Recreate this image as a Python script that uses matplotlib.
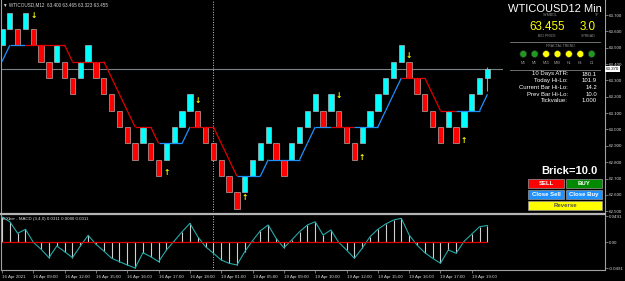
import matplotlib
matplotlib.use('Agg')
import matplotlib.pyplot as plt
from matplotlib.patches import Rectangle, Circle
import matplotlib.transforms as mtransforms

plt.rcParams['font.family'] = ['Liberation Sans', 'DejaVu Sans']

# ---------------- data ----------------
brick_size = 0.1
brick_low = [63.515, 63.615, 63.515, 63.615, 63.515, 63.415, 63.315, 63.415, 63.315, 63.215,
             63.315, 63.415, 63.315, 63.215, 63.115, 63.015, 62.915, 62.815, 62.915, 62.815,
             62.715, 62.815, 62.915, 63.015, 63.115, 63.015, 62.915, 62.815, 62.715, 62.615,
             62.515, 62.615, 62.715, 62.815, 62.915, 62.815, 62.715, 62.815, 62.915, 63.015,
             63.115, 63.015, 63.115, 63.015, 62.915, 62.815, 62.915, 63.015, 63.115, 63.215,
             63.315, 63.415, 63.315, 63.215, 63.115, 63.015, 62.915, 63.015, 62.915, 63.015,
             63.115, 63.215, 63.315]
brick_dir = [1, 1, -1, 1, -1, -1, -1, 1, -1, -1,
             1, 1, -1, -1, -1, -1, -1, -1, 1, -1,
             -1, 1, 1, 1, 1, -1, -1, -1, -1, -1,
             -1, 1, 1, 1, 1, -1, -1, 1, 1, 1,
             1, -1, 1, -1, -1, -1, 1, 1, 1, 1,
             1, 1, -1, -1, -1, -1, -1, 1, -1, 1,
             1, 1, 1]
current_close = 63.370
current_wick = (63.235, 63.382)

trend_level = [63.415, 63.515, 63.515, 63.515, 63.515, 63.515, 63.515, 63.515, 63.515, 63.415,
               63.415, 63.415, 63.415, 63.415, 63.315, 63.215, 63.115, 63.015, 63.015, 63.015,
               62.915, 62.915, 62.915, 62.915, 63.015, 63.015, 63.015, 63.015, 62.915, 62.815,
               62.715, 62.715, 62.715, 62.715, 62.815, 62.815, 62.815, 62.815, 62.815, 62.915,
               63.015, 63.015, 63.015, 63.015, 63.015, 63.015, 63.015, 63.015, 63.015, 63.115,
               63.215, 63.315, 63.315, 63.315, 63.315, 63.215, 63.115, 63.115, 63.115, 63.115,
               63.115, 63.115, 63.215]
trend_up = [1, 1, 1, 1, 0, 0, 0, 0, 0, 0,
            0, 0, 0, 0, 0, 0, 0, 0, 0, 0,
            0, 1, 1, 1, 1, 0, 0, 0, 0, 0,
            0, 1, 1, 1, 1, 1, 1, 1, 1, 1,
            1, 1, 1, 0, 0, 0, 1, 1, 1, 1,
            1, 1, 0, 0, 0, 0, 0, 0, 0, 1,
            1, 1, 1]

arrow_down_idx = [4, 25, 43, 52]
arrow_down_price = [63.700, 63.180, 63.205, 63.455]
arrow_up_idx = [21, 31, 46, 59]
arrow_up_price = [62.734, 62.581, 62.831, 62.935]

separator_idx = 27

macd = [0.0472, 0.0383, 0.0164, 0.0240, -0.0006, -0.0138, -0.0296, -0.0076, -0.0183, -0.0296,
        -0.0076, 0.0126, -0.0043, -0.0170, -0.0308, -0.0372, -0.0434, -0.0491, -0.0202, -0.0278,
        -0.0372, -0.0151, 0.0019, 0.0194, 0.0353, 0.0100, -0.0089, -0.0213, -0.0340, -0.0402,
        -0.0434, -0.0183, 0.0025, 0.0213, 0.0321, 0.0070, -0.0108, 0.0038, 0.0194, 0.0321,
        0.0383, 0.0132, 0.0227, -0.0006, -0.0151, -0.0308, -0.0119, 0.0100, 0.0240, 0.0340,
        0.0415, 0.0447, 0.0132, -0.0057, -0.0202, -0.0308, -0.0402, -0.0151, -0.0213, 0.0010,
        0.0151, 0.0289, 0.0311]
macd_scale = 0.0491

price_ticks = [63.7, 63.6, 63.5, 63.4, 63.3, 63.2, 63.1, 63.0, 62.9, 62.8, 62.7, 62.6, 62.5]
time_tick_idx = [0, 4, 8, 12, 16, 20, 24, 28, 32, 36, 40, 44, 48, 52, 56, 60]
time_labels = ['16 Apr 2021', '16 Apr 09:00', '16 Apr 12:00', '16 Apr 15:00', '16 Apr 16:00',
               '16 Apr 17:00', '16 Apr 18:00', '19 Apr 01:00', '19 Apr 05:00', '19 Apr 09:00',
               '19 Apr 10:00', '19 Apr 12:00', '19 Apr 15:00', '19 Apr 16:00', '19 Apr 17:00',
               '19 Apr 19:00']

title_text = '\u25bc WTICOUSD,M12  63.400 63.465 63.323 63.455'
macd_title = 'EXbar - MACD (3,4,0) 0.0311 0.0080 0.0311'
symbol_name = 'WTICOUSD12 Min'
bid_price = '63.455'
spread = '3.0'
fractal_tf = ['M1', 'M5', 'M15', 'M30', 'H1', 'H4', 'D1']
fractal_state = ['green', 'green', 'yellow', 'yellow', 'yellow', 'yellow', 'green']
info_labels = ['10 Days ATR:', 'Today Hi-Lo:', 'Current Bar Hi-Lo:', 'Prev Bar Hi-Lo:', 'Tickvalue:']
info_values = ['180.1', '101.9', '14.2', '10.0', '1.000']
brick_text = 'Brick=10.0'

# ---------------- figure ----------------
W, H = 625, 281
fig = plt.figure(figsize=(W / 100, H / 100), dpi=100, facecolor='black')

FG = '#d8d8d8'
FRAME = '#a0a0a0'

def fr(x0, y0, x1, y1):
    return [x0 / W, 1 - y1 / H, (x1 - x0) / W, (y1 - y0) / H]

ax = fig.add_axes(fr(1, 0, 605, 212))
ax2 = fig.add_axes(fr(1, 215, 605, 270))
for a in (ax, ax2):
    a.set_facecolor('black')
    for s in ('top', 'bottom'):
        a.spines[s].set_visible(False)
    for s in ('left', 'right'):
        a.spines[s].set_color(FRAME)
        a.spines[s].set_linewidth(0.8)

px_per_idx = 7.83
xlim = (-1 / px_per_idx, 603 / px_per_idx)
ax.set_xlim(*xlim)
ax2.set_xlim(*xlim)

# price scale: 0.1 per 16.35 px, 63.7 at px 15
ppx = 0.1 / 16.35
ax.set_ylim(63.7 - (212 - 15) * ppx, 63.7 + 15 * ppx)

n = len(brick_low)
idx = list(range(n))

# bricks
for i in idx:
    lo = brick_low[i]
    if i == n - 1:
        bottom, height = lo, current_close - lo
        ax.vlines(i, current_wick[0], current_wick[1], color='#9a9a9a', lw=0.8, zorder=2)
    else:
        bottom, height = lo, brick_size
    col = '#00ffff' if brick_dir[i] > 0 else '#ff0000'
    ax.bar(i, height, bottom=bottom, width=0.68, color=col, edgecolor='#bcbcbc',
           linewidth=0.45, zorder=3)

# trend line
for i in range(1, n):
    col = '#1e90ff' if trend_up[i] else '#e00000'
    ax.plot([i - 1, i], [trend_level[i - 1], trend_level[i]], color=col, lw=0.9,
            solid_capstyle='butt', zorder=4)

# fractal arrows
for i, p in zip(arrow_down_idx, arrow_down_price):
    ax.text(i, p, '\u2193', color='#ffff00', fontsize=5.5, fontweight='bold',
            ha='center', va='center', zorder=5, family='DejaVu Sans')
for i, p in zip(arrow_up_idx, arrow_up_price):
    ax.text(i, p, '\u2191', color='#ffff00', fontsize=5.5, fontweight='bold',
            ha='center', va='center', zorder=5, family='DejaVu Sans')

# bid line
ax.axhline(current_close, color='#7a8088', lw=0.8, zorder=1)

# separator
for a in (ax, ax2):
    a.axvline(separator_idx, color='#c8c8c8', lw=0.7, ls=(0, (1, 1.6)), zorder=1)

# right price axis
ax.yaxis.tick_right()
ax.set_yticks(price_ticks)
ax.set_yticklabels(['%.3f' % t for t in price_ticks])
ax.tick_params(axis='y', colors=FRAME, labelcolor=FG, labelsize=3.2, length=2, width=0.5, pad=1)
ax.set_xticks([])

# bid label box
trans = mtransforms.blended_transform_factory(ax.transAxes, ax.transData)
ax.text(1.0015, current_close, '%.3f' % current_close, transform=trans, fontsize=3.2,
        color='black', ha='left', va='center', clip_on=False, zorder=6,
        bbox=dict(boxstyle='square,pad=0.25', fc='white', ec='white', lw=0))

# ---------------- MACD ----------------
zero_px = 242
mpx = macd_scale / 26.0
ax2.set_ylim(-(270 - zero_px) * mpx, (zero_px - 215) * mpx)
ax2.vlines(idx, 0, macd, color='#d0d0d0', lw=0.8, zorder=2)
ax2.plot(idx, macd, color='#26a9a9', lw=0.8, zorder=3)
ax2.hlines(0, idx[0], idx[-1], color='#e00000', lw=0.9, zorder=4)
ax2.yaxis.tick_right()
ax2.set_yticks([macd_scale, 0, -macd_scale])
ax2.set_yticklabels(['%.4f' % macd_scale, '0.00', '-%.4f' % macd_scale])
ax2.tick_params(axis='y', colors=FRAME, labelcolor=FG, labelsize=3.2, length=2, width=0.5, pad=1)
ax2.set_xticks(time_tick_idx)
ax2.set_xticklabels(time_labels, ha='left')
ax2.tick_params(axis='x', colors=FRAME, labelcolor=FG, labelsize=3.2, length=2.2, width=0.5, pad=1.2)

# ---------------- overlay (panel, frames, texts) ----------------
ov = fig.add_axes([0, 0, 1, 1], zorder=10)
ov.set_xlim(0, W)
ov.set_ylim(H, 0)
ov.axis('off')
ov.patch.set_alpha(0)

# frame lines
ov.plot([0, 605], [213.5, 213.5], color='#b4b4b4', lw=1.6)
ov.plot([1, 605], [270, 270], color=FRAME, lw=0.8)

# titles
ov.text(3, 5, title_text, color=FG, fontsize=3.3, ha='left', va='center',
        family=['Liberation Sans', 'DejaVu Sans'])
ov.text(3, 219, macd_title, color=FG, fontsize=3.2, ha='left', va='center')

# info panel background (hides bid line)
ov.add_patch(Rectangle((503, 1), 101.5, 106, fc='black', ec='none'))

ov.text(554.5, 8.5, symbol_name, color='white', fontsize=8.0, ha='center', va='center')
ov.text(550, 15.5, 'SYMBOL', color='#909090', fontsize=2.6, ha='center', va='center')
ov.text(597, 15.5, 'TF', color='#909090', fontsize=2.6, ha='center', va='center')
ov.text(547.5, 26.5, bid_price, color='#ffff00', fontsize=8.4, ha='center', va='center')
ov.text(588, 26.5, spread, color='#ffff00', fontsize=8.4, ha='center', va='center')
ov.text(547, 36, 'BID PRICE', color='#909090', fontsize=2.6, ha='center', va='center')
ov.text(588, 36, 'SPREAD', color='#909090', fontsize=2.6, ha='center', va='center')
ov.plot([510, 600], [42, 42], color='#808080', lw=0.6)
ov.text(560, 46, 'FRACTAL TREND', color='#909090', fontsize=2.6, ha='center', va='center')
state_col = {'green': '#1f9a1f', 'yellow': '#ffff00'}
for k, (tf, st) in enumerate(zip(fractal_tf, fractal_state)):
    cx = 523.3 + k * 11.4
    ov.add_patch(Circle((cx, 54), 3.4, fc=state_col[st], ec='#2a2a2a', lw=0.4))
    ov.text(cx, 63, tf, color='#a0a0a0', fontsize=2.6, ha='center', va='center')
ov.plot([510, 600], [70, 70], color='#808080', lw=0.6)
for k, (lab, val) in enumerate(zip(info_labels, info_values)):
    yy = 74 + k * 6.75
    ov.text(568, yy, lab, color='white', fontsize=4.3, ha='right', va='center')
    ov.text(597, yy, val, color='white', fontsize=4.3, ha='right', va='center')

ov.text(598, 171, brick_text, color='white', fontsize=8.0, fontweight='bold',
        ha='right', va='center')

buttons = [((528, 179, 36, 9), '#ff0000', 'SELL', 'white'),
           ((566, 179, 36, 9), '#008a00', 'BUY', 'white'),
           ((528, 190, 36, 9), '#1e90ff', 'Close Sell', 'white'),
           ((566, 190, 36, 9), '#1e90ff', 'Close Buy', 'white'),
           ((528, 201, 74, 9), '#ffff00', 'Reverse', '#505050')]
for (x0, y0, w, h), fc, lab, tc in buttons:
    ov.add_patch(Rectangle((x0, y0), w, h, fc=fc, ec='#9a9a9a', lw=0.5))
    ov.text(x0 + w / 2, y0 + h / 2 + 0.3, lab, color=tc, fontsize=4.3, fontweight='bold',
            ha='center', va='center')

fig.savefig('out.png', dpi=100, facecolor='black')
